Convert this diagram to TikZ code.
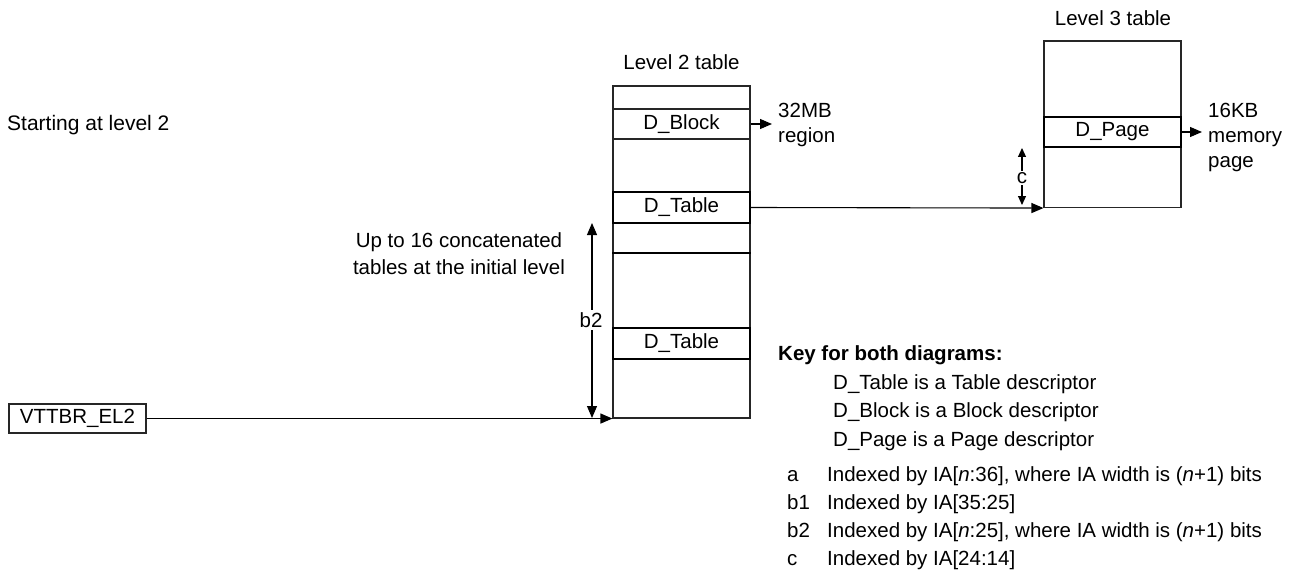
\documentclass[tikz,border=0pt]{standalone}
\usepackage{fontspec}
\setmainfont{Liberation Sans}
\usetikzlibrary{arrows.meta}
\begin{document}
\begin{tikzpicture}[x=1pt,y=-1pt,
  every node/.style={font=\fontsize{20.5}{25}\selectfont},
  lbl/.style={inner sep=0pt},
  tbl/.style={draw=black!85,line width=1.1pt,minimum width=137pt,inner sep=0pt},
  rowthin/.style={draw=black!85,line width=1.1pt,minimum width=137pt,minimum height=30pt,inner sep=0pt},
  rowthick/.style={draw=black,line width=1.7pt,minimum width=137pt,minimum height=30.5pt,inner sep=0pt},
  arr/.style={-{Triangle[length=12pt,width=10pt]},line width=1.1pt},
]
\useasboundingbox (0,0) rectangle (1301,575);

% Level 2 table
\node[tbl,minimum height=332pt] (l2) at (681.5,252) {};
\node[rowthin] (dblock) at (681.5,124) {D\_Block};
\node[rowthick] (dtab1) at (681.5,207.5) {D\_Table};
\node[rowthick] (dtab2) at (681.5,343.5) {D\_Table};
\coordinate (r253) at (0,253);
\draw[line width=1.7pt] (l2.west |- r253) -- (l2.east |- r253);
\node[lbl,anchor=base] (l2lbl) at (681.5,70) {Level 2 table};

% Level 3 table
\node[tbl,minimum height=166.5pt] (l3) at (1112.5,124.25) {};
\node[rowthick] (dpage) at (1112.5,132) {D\_Page};
\node[lbl,anchor=base] (l3lbl) at (1113,26) {Level 3 table};

% outputs
\coordinate (mbtip) at (772,124);
\draw[arr] (dblock.east) -- (mbtip);
\node[lbl,anchor=north west,align=left] (mb) at (778,103) {32MB\\region};
\coordinate (kbtip) at (1202,132);
\draw[arr] (dpage.east) -- (kbtip);
\node[lbl,anchor=north west,align=left] (kb) at (1208,103) {16KB\\memory\\page};

% D_Table -> level 3
\draw[arr] (dtab1.east) -- (l3.south west);

% c dimension
\coordinate (ctop) at (1022,148);
\coordinate (cbot) at (1022,205);
\draw[{Triangle[length=9pt,width=8pt]}-{Triangle[length=9pt,width=8pt]},line width=1.1pt] (ctop) -- (cbot);
\node[lbl,fill=white,inner sep=2pt,text height=10pt,text depth=0pt] (clbl) at (1022,178) {c};

% starting text
\node[lbl,anchor=base west,font=\fontsize{21}{25}\selectfont] (start) at (7,131) {Starting at level 2};

% VTTBR
\node[draw=black!85,line width=1.1pt,minimum width=137pt,minimum height=29pt,inner sep=0pt] (vt) at (77.5,418.5) {VTTBR\_EL2};
\draw[arr] (vt.east |- l2.south west) -- (l2.south west);

% b2 dimension
\coordinate (b2top) at (592,223);
\coordinate (b2bot) at (592,418);
\draw[{Triangle[length=12pt,width=10pt]}-{Triangle[length=12pt,width=10pt]},line width=1.1pt] (b2top) -- (b2bot);
\node[lbl,fill=white,inner sep=2pt] (b2lbl) at (591,320) {b2};
\node[lbl,anchor=north,align=center,font=\fontsize{20.5}{27}\selectfont] (upto) at (459,232) {Up to 16 concatenated\\tables at the initial level};

% Key
\node[lbl,anchor=base west,font=\fontsize{20.5}{25}\selectfont\bfseries] (key) at (778,360) {Key for both diagrams:};
\node[lbl,anchor=base west] (k1) at (833,389) {D\_Table is a Table descriptor};
\node[lbl,anchor=base west] (k2) at (833,417) {D\_Block is a Block descriptor};
\node[lbl,anchor=base west] (k3) at (833,446) {D\_Page is a Page descriptor};
\node[lbl,anchor=base west] (ka) at (787,481) {a};
\node[lbl,anchor=base west] (kat) at (827,481) {Indexed by IA[\textit{n}:36], where IA width is (\textit{n}+1) bits};
\node[lbl,anchor=base west] (kb1) at (787,509) {b1};
\node[lbl,anchor=base west] (kb1t) at (827,509) {Indexed by IA[35:25]};
\node[lbl,anchor=base west] (kb2) at (787,537) {b2};
\node[lbl,anchor=base west] (kb2t) at (827,537) {Indexed by IA[\textit{n}:25], where IA width is (\textit{n}+1) bits};
\node[lbl,anchor=base west] (kc) at (787,565) {c};
\node[lbl,anchor=base west] (kct) at (827,565) {Indexed by IA[24:14]};
\end{tikzpicture}
\end{document}
